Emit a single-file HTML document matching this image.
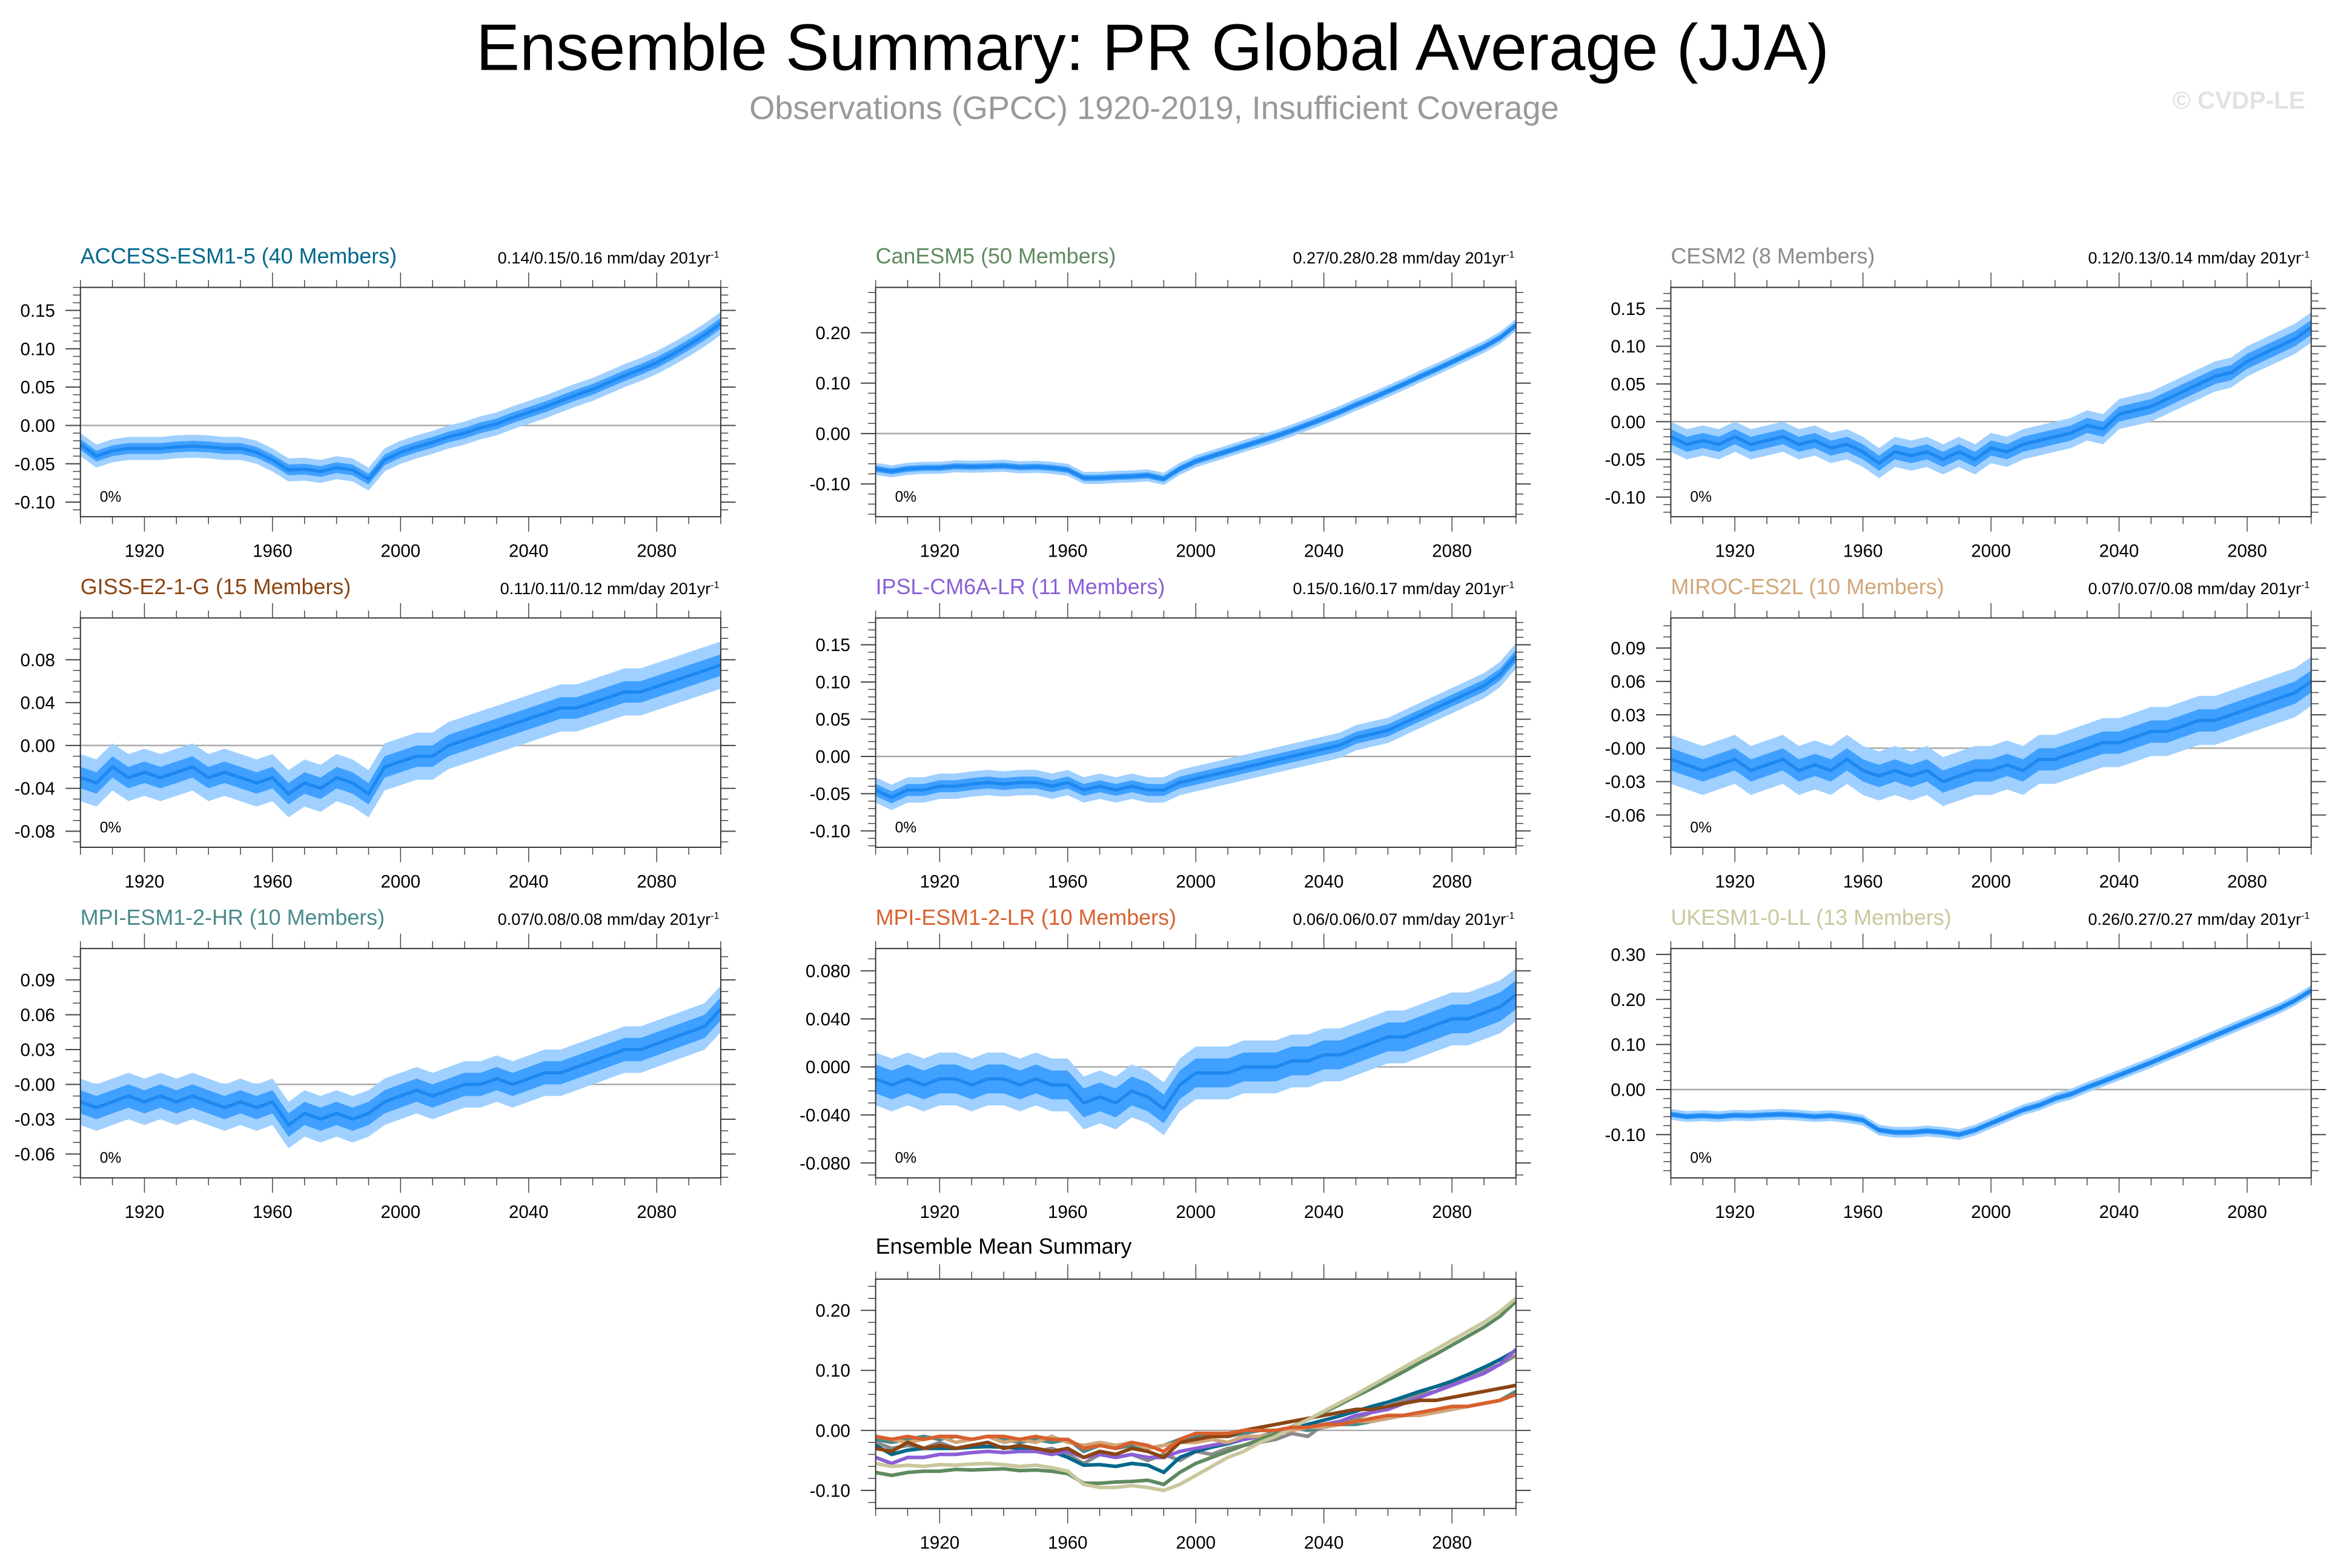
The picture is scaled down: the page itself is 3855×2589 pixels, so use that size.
<!DOCTYPE html>
<html><head><meta charset="utf-8"><style>
html,body{margin:0;padding:0;background:#fff;}
svg{display:block;font-family:"Liberation Sans",sans-serif;}
</style></head><body>
<svg id="fig" width="3855" height="2589" viewBox="0 0 1568 1053" preserveAspectRatio="none" xmlns="http://www.w3.org/2000/svg">
<text x="774" y="47" font-size="44" text-anchor="middle" fill="#000">Ensemble Summary: PR Global Average (JJA)</text>
<text x="775" y="80" font-size="22" text-anchor="middle" fill="#999">Observations (GPCC) 1920-2019, Insufficient Coverage</text>
<text x="1548" y="73" font-size="16.5" font-weight="bold" text-anchor="end" fill="#e2e2e2">© CVDP-LE</text>
</svg>
<script>
const years5 = [1900,1905,1910,1915,1920,1925,1930,1935,1940,1945,1950,1955,1960,1965,1970,1975,1980,1985,1990,1995,2000,2005,2010,2015,2020,2025,2030,2035,2040,2045,2050,2055,2060,2065,2070,2075,2080,2085,2090,2095,2100];
const xTicks = [1920,1960,2000,2040,2080];
const accessMean = [-0.025,-0.04,-0.033,-0.03,-0.03,-0.03,-0.028,-0.027,-0.028,-0.03,-0.03,-0.035,-0.045,-0.058,-0.057,-0.06,-0.055,-0.058,-0.07,-0.045,-0.035,-0.028,-0.022,-0.015,-0.01,-0.003,0.002,0.01,0.017,0.024,0.032,0.04,0.047,0.056,0.065,0.073,0.082,0.093,0.105,0.118,0.133];
const canesmMean = [-0.07,-0.075,-0.07,-0.068,-0.068,-0.065,-0.066,-0.065,-0.064,-0.067,-0.066,-0.068,-0.072,-0.088,-0.088,-0.086,-0.085,-0.083,-0.09,-0.07,-0.055,-0.045,-0.035,-0.025,-0.015,-0.005,0.006,0.018,0.03,0.043,0.057,0.07,0.084,0.098,0.113,0.127,0.142,0.157,0.172,0.19,0.215];
const cesmMean = [-0.02,-0.03,-0.025,-0.03,-0.02,-0.03,-0.025,-0.02,-0.03,-0.025,-0.035,-0.03,-0.04,-0.055,-0.04,-0.045,-0.04,-0.05,-0.04,-0.05,-0.035,-0.04,-0.03,-0.025,-0.02,-0.015,-0.005,-0.01,0.01,0.015,0.02,0.03,0.04,0.05,0.06,0.065,0.08,0.09,0.1,0.11,0.125];
const gissMean = [-0.03,-0.035,-0.02,-0.03,-0.025,-0.03,-0.025,-0.02,-0.03,-0.025,-0.03,-0.035,-0.03,-0.045,-0.035,-0.04,-0.03,-0.035,-0.045,-0.02,-0.015,-0.01,-0.01,0.0,0.005,0.01,0.015,0.02,0.025,0.03,0.035,0.035,0.04,0.045,0.05,0.05,0.055,0.06,0.065,0.07,0.075];
const ipslMean = [-0.045,-0.055,-0.045,-0.045,-0.04,-0.04,-0.037,-0.035,-0.037,-0.035,-0.035,-0.04,-0.035,-0.045,-0.04,-0.045,-0.04,-0.045,-0.045,-0.035,-0.03,-0.025,-0.02,-0.015,-0.01,-0.005,0.0,0.005,0.01,0.015,0.025,0.03,0.035,0.045,0.055,0.065,0.075,0.085,0.095,0.11,0.135];
const mirocMean = [-0.01,-0.015,-0.02,-0.015,-0.01,-0.02,-0.015,-0.01,-0.02,-0.015,-0.02,-0.01,-0.02,-0.025,-0.02,-0.025,-0.02,-0.03,-0.025,-0.02,-0.02,-0.015,-0.02,-0.01,-0.01,-0.005,0.0,0.005,0.005,0.01,0.015,0.015,0.02,0.025,0.025,0.03,0.035,0.04,0.045,0.05,0.06];
const mpihrMean = [-0.015,-0.02,-0.015,-0.01,-0.015,-0.01,-0.015,-0.01,-0.015,-0.02,-0.015,-0.02,-0.015,-0.035,-0.025,-0.03,-0.025,-0.03,-0.025,-0.015,-0.01,-0.005,-0.01,-0.005,0.0,0.0,0.005,0.0,0.005,0.01,0.01,0.015,0.02,0.025,0.03,0.03,0.035,0.04,0.045,0.05,0.065];
const mpilrMean = [-0.01,-0.015,-0.01,-0.015,-0.01,-0.01,-0.015,-0.01,-0.01,-0.015,-0.01,-0.015,-0.015,-0.03,-0.025,-0.03,-0.02,-0.025,-0.035,-0.015,-0.005,-0.005,-0.005,0.0,0.0,0.0,0.005,0.005,0.01,0.01,0.015,0.02,0.025,0.025,0.03,0.035,0.04,0.04,0.045,0.05,0.06];
const ukesmMean = [-0.055,-0.06,-0.058,-0.06,-0.057,-0.058,-0.056,-0.055,-0.057,-0.06,-0.058,-0.062,-0.068,-0.09,-0.095,-0.095,-0.092,-0.095,-0.1,-0.09,-0.075,-0.06,-0.045,-0.035,-0.02,-0.01,0.005,0.018,0.032,0.046,0.06,0.075,0.09,0.105,0.12,0.135,0.15,0.165,0.18,0.198,0.22];
const innerSpread = [0.007,0.006,0.01,0.01,0.008,0.01,0.01,0.012,0.006];
const outerSpread = [0.015,0.012,0.02,0.022,0.017,0.022,0.02,0.022,0.012];
const modelNames = ["ACCESS-ESM1-5 (40 Members)","CanESM5 (50 Members)","CESM2 (8 Members)","GISS-E2-1-G (15 Members)","IPSL-CM6A-LR (11 Members)","MIROC-ES2L (10 Members)","MPI-ESM1-2-HR (10 Members)","MPI-ESM1-2-LR (10 Members)","UKESM1-0-LL (13 Members)"];
const rateLabels = ["0.14/0.15/0.16","0.27/0.28/0.28","0.12/0.13/0.14","0.11/0.11/0.12","0.15/0.16/0.17","0.07/0.07/0.08","0.07/0.08/0.08","0.06/0.06/0.07","0.26/0.27/0.27"];
const yMins = [-0.119,-0.165,-0.126,-0.095,-0.122,-0.089,-0.0805,-0.0924,-0.196];
const yMaxs = [0.18,0.29,0.178,0.119,0.186,0.117,0.117,0.0986,0.313];
const yTickVals = [[-0.1,-0.05,0,0.05,0.1,0.15],[-0.1,0,0.1,0.2],[-0.1,-0.05,0,0.05,0.1,0.15],[-0.08,-0.04,0,0.04,0.08],[-0.1,-0.05,0,0.05,0.1,0.15],[-0.06,-0.03,0,0.03,0.06,0.09],[-0.06,-0.03,0,0.03,0.06,0.09],[-0.08,-0.04,0,0.04,0.08],[-0.1,0,0.1,0.2,0.3]];
const yTickLabels = [["-0.10","-0.05","0.00","0.05","0.10","0.15"],["-0.10","0.00","0.10","0.20"],["-0.10","-0.05","0.00","0.05","0.10","0.15"],["-0.08","-0.04","0.00","0.04","0.08"],["-0.10","-0.05","0.00","0.05","0.10","0.15"],["-0.06","-0.03","-0.00","0.03","0.06","0.09"],["-0.06","-0.03","-0.00","0.03","0.06","0.09"],["-0.080","-0.040","0.000","0.040","0.080"],["-0.10","0.00","0.10","0.20","0.30"]];
const minorSteps = [0.01,0.02,0.01,0.01,0.01,0.01,0.01,0.01,0.02];
const modelColors = ["#00688b","#5f8a60","#8a8a8a","#8b4513","#8b5fd6","#d2a679","#4a8a8c","#d8602e","#c9c79c"];
const summaryTickVals = [-0.1,0,0.1,0.2];
const summaryTickLabels = ["-0.10","0.00","0.10","0.20"];

const allMeans = [accessMean,canesmMean,cesmMean,gissMean,ipslMean,mirocMean,mpihrMean,mpilrMean,ukesmMean];
const NS = "http://www.w3.org/2000/svg";
const svg = document.getElementById("fig");
const colX = [54,588,1122], rowY = [193,415,637,859], W = 430, H = 154;

function mk(tag, attrs, parent){const e=document.createElementNS(NS,tag);for(const k in attrs)e.setAttribute(k,attrs[k]);(parent||svg).appendChild(e);return e;}

function drawAxes(g, x0, y0, ymin, ymax, tv, tl, minor){
  const sx = v => x0 + (v-1900)/200*W;
  const sy = v => y0 + H - (v-ymin)/(ymax-ymin)*H;
  for(let yr=1900; yr<=2100; yr+=10){
    const big = yr%40===0 && yr>=1920;
    const len = big?10:5;
    mk("line",{x1:sx(yr),x2:sx(yr),y1:y0,y2:y0-len,stroke:"#444","stroke-width":0.6},g);
    mk("line",{x1:sx(yr),x2:sx(yr),y1:y0+H,y2:y0+H+len,stroke:"#444","stroke-width":0.6},g);
  }
  xTicks.forEach(yr=>{
    const t=mk("text",{x:sx(yr),y:y0+H+27,"font-size":12,"text-anchor":"middle",fill:"#000"},g);
    
    
    t.textContent=yr;
  });
  const start = Math.ceil(ymin/minor-1e-6)*minor;
  for(let v=start; v<=ymax+1e-9; v+=minor){
    mk("line",{x1:x0,x2:x0-5,y1:sy(v),y2:sy(v),stroke:"#444","stroke-width":0.6},g);
    mk("line",{x1:x0+W,x2:x0+W+5,y1:sy(v),y2:sy(v),stroke:"#444","stroke-width":0.6},g);
  }
  tv.forEach((v,i)=>{
    mk("line",{x1:x0,x2:x0-10,y1:sy(v),y2:sy(v),stroke:"#444","stroke-width":0.8},g);
    mk("line",{x1:x0+W,x2:x0+W+10,y1:sy(v),y2:sy(v),stroke:"#444","stroke-width":0.8},g);
    const t=mk("text",{x:x0-17,y:sy(v)+4.3,"font-size":12,"text-anchor":"end",fill:"#000"},g);
    
    
    t.textContent=tl[i];
  });
  mk("line",{x1:x0,x2:x0+W,y1:sy(0),y2:sy(0),stroke:"#aaa","stroke-width":1},g);
  return {sx,sy};
}

for(let m=0;m<9;m++){
  const x0=colX[m%3], y0=rowY[Math.floor(m/3)];
  const g=mk("g",{});
  
  
  const ax=drawAxes(g,x0,y0,yMins[m],yMaxs[m],yTickVals[m],yTickLabels[m],minorSteps[m]);
  const mean=allMeans[m];
  const band=(w)=>{
    let up=years5.map((yr,i)=>ax.sx(yr)+","+ax.sy(mean[i]+w)).join(" ");
    let dn=years5.map((yr,i)=>ax.sx(yr)+","+ax.sy(mean[i]-w)).reverse().join(" ");
    return up+" "+dn;
  };
  const ob=mk("polygon",{points:band(outerSpread[m]),fill:"#9fd0ff"},g);
  
  
  const ib=mk("polygon",{points:band(innerSpread[m]),fill:"#3fa0ff"},g);
  
  
  const ln=mk("polyline",{points:years5.map((yr,i)=>ax.sx(yr)+","+ax.sy(mean[i])).join(" "),fill:"none",stroke:"#1e88f0","stroke-width":2.2},g);
  
  
  mk("rect",{x:x0,y:y0,width:W,height:H,fill:"none",stroke:"#333","stroke-width":0.8},g);
  const ti=mk("text",{x:x0,y:y0-16,"font-size":14.6,fill:modelColors[m]},g);
  
  
  ti.textContent=modelNames[m];
  const rt=mk("text",{x:x0+W-1,y:y0-16,"font-size":11,"text-anchor":"end",fill:"#000"},g);
  
  
  rt.textContent=rateLabels[m]+" mm/day 201yr";
  const sp=mk("tspan",{dy:-4,"font-size":6.5},rt);
  sp.textContent="-1";
  const pc=mk("text",{x:x0+13,y:y0+H-10,"font-size":10,fill:"#000"},g);
  
  
  pc.textContent="0%";
}

{
  const x0=588,y0=859;
  const g=mk("g",{});
  
  
  const ax=drawAxes(g,x0,y0,-0.13,0.252,summaryTickVals,summaryTickLabels,0.02);
  const order=[2,0,4,6,5,3,1,8,7];
  order.forEach(m=>{
    const l=mk("polyline",{points:years5.map((yr,i)=>ax.sx(yr)+","+ax.sy(allMeans[m][i])).join(" "),fill:"none",stroke:modelColors[m],"stroke-width":2.4},g);
    
    
  });
  mk("rect",{x:x0,y:y0,width:W,height:H,fill:"none",stroke:"#333","stroke-width":0.8},g);
  const t=mk("text",{x:x0,y:y0-17,"font-size":14.6,fill:"#000"},g);
  
  
  t.textContent="Ensemble Mean Summary";
}
</script>
</body></html>
